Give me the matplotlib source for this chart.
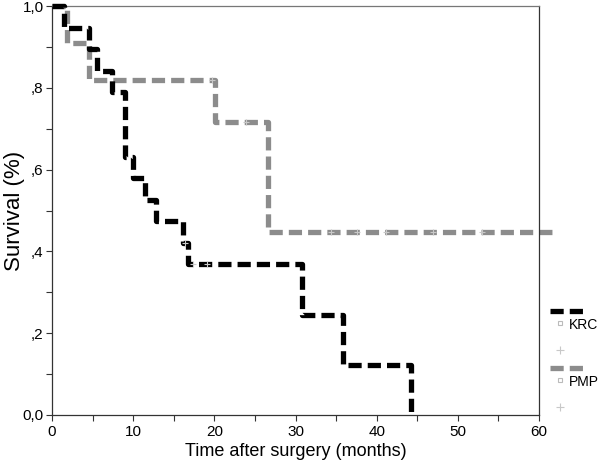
import matplotlib
matplotlib.use("Agg")
import matplotlib.pyplot as plt
from matplotlib.lines import Line2D

plt.rcParams['font.family'] = ['Liberation Sans', 'DejaVu Sans']

# KRC step curve (time in months, survival)
krc_times = [0, 1.5, 4.5, 5.6, 7.4, 9.0, 10.0, 11.4, 12.8, 16.2, 16.7, 30.8, 35.9, 44.2]
krc_surv = [1.0, 0.947, 0.895, 0.842, 0.789, 0.632, 0.579, 0.526, 0.474, 0.421, 0.368, 0.245, 0.123, 0.0]
krc_cens_t = [16.4, 17.4, 19.1]
krc_cens_s = [0.421, 0.368, 0.368]

# PMP step curve
pmp_times = [0, 1.9, 4.6, 20.1, 26.6, 62.2]
pmp_surv = [1.0, 0.909, 0.818, 0.716, 0.448, 0.448]
pmp_cens_t = [19.7, 23.9, 34.4, 37.6, 41.2, 47.0, 53.0]
pmp_cens_s = [0.818, 0.716, 0.448, 0.448, 0.448, 0.448, 0.448]

xticks = [0, 10, 20, 30, 40, 50, 60]
yticks = [0.0, 0.2, 0.4, 0.6, 0.8, 1.0]
ytick_labels = ["0,0", ",2", ",4", ",6", ",8", "1,0"]

W, H = 600, 463
fig = plt.figure(figsize=(6.0, 4.63), dpi=100)
ax = fig.add_axes([52 / W, 1 - 415 / H, (539 - 52) / W, (415 - 6) / H])

BLACK = "#000000"
GRAY = "#8c8c8c"
dash = (0, (2.5, 1.15))
lw = 3.8

ax.step(krc_times, krc_surv, where="post", color=BLACK, lw=lw, linestyle=dash,
        clip_on=False, zorder=3)
ax.step(pmp_times, pmp_surv, where="post", color=GRAY, lw=lw, linestyle=dash,
        clip_on=False, zorder=2)
ax.plot(krc_cens_t, krc_cens_s, linestyle="none", marker="+", ms=5, mew=0.8,
        color="#c8c8c8", zorder=4, clip_on=False)
ax.plot(pmp_cens_t, pmp_cens_s, linestyle="none", marker="+", ms=5, mew=0.8,
        color="#c8c8c8", zorder=4, clip_on=False)

ax.set_xlim(0, 60)
ax.set_ylim(0, 1.0)
ax.set_xticks(xticks)
ax.set_xticks([5, 15, 25, 35, 45, 55], minor=True)
ax.set_yticks(yticks)
ax.set_yticklabels(ytick_labels)
ax.set_yticks([0.1, 0.3, 0.5, 0.7, 0.9], minor=True)
ax.tick_params(axis="both", which="both", direction="out", length=4, width=0.8,
               color="#333333", labelsize=11)
ax.tick_params(axis="x", pad=3)
ax.tick_params(axis="y", pad=2)
for sp in ax.spines.values():
    sp.set_color("#333333")
    sp.set_linewidth(0.9)
ax.spines["top"].set_color("#777777")

ax.set_xlabel("Time after surgery (months)", fontsize=13, labelpad=3)
ax.set_ylabel("Survival (%)", fontsize=16)
ax.yaxis.set_label_coords((25 - 52) / (539 - 52), 0.5)

# Legend drawn in figure coordinates (outside the right of the plot)
def fx(x):
    return x / W

def fy(y):
    return 1 - y / H

for (ly, col, name) in [(311, BLACK, "KRC"), (368, GRAY, "PMP")]:
    fig.add_artist(Line2D([fx(550), fx(586)], [fy(ly), fy(ly)], color=col, lw=lw,
                          linestyle=dash))
    fig.add_artist(Line2D([fx(560)], [fy(ly + 12)], marker="s", ms=3.5, mfc="white",
                          mec="#bbbbbb", mew=0.8, linestyle="none"))
    fig.text(fx(569), fy(ly + 14), name, fontsize=10, va="center", ha="left")
    fig.add_artist(Line2D([fx(560)], [fy(ly + 39)], marker="+", ms=6, mew=0.8,
                          color="#c8c8c8", linestyle="none"))

fig.savefig("out.png", dpi=100)
